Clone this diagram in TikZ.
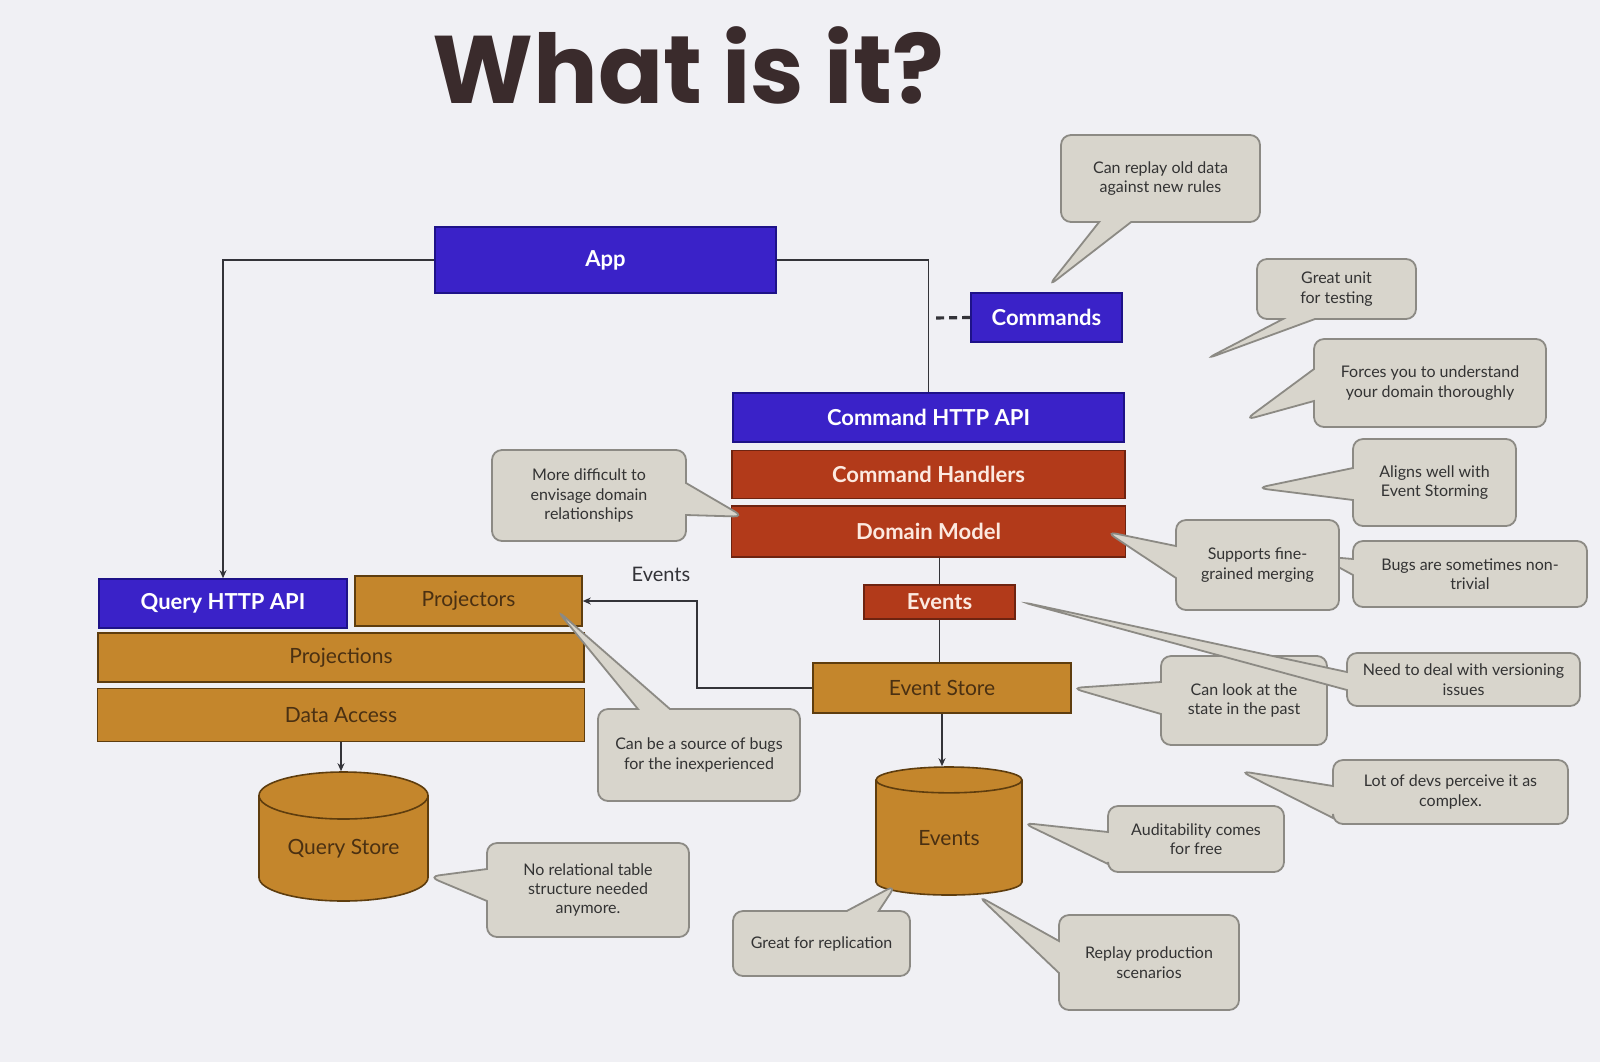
\documentclass[tikz,border=0pt]{standalone}
\usepackage{fontspec}
\setmainfont{Lato}
\newfontfamily\titlefont{Poppins}
\usepackage{xcolor}
\definecolor{bgpaper}{HTML}{F0F0F4}
\definecolor{titleink}{HTML}{3A2B2C}
\definecolor{appblue}{HTML}{3A22C8}
\definecolor{appblueline}{HTML}{1E1288}
\definecolor{cmdred}{HTML}{B23A1A}
\definecolor{cmdredline}{HTML}{6E2310}
\definecolor{cmdredtext}{HTML}{FCE9E0}
\definecolor{storegold}{HTML}{C4862C}
\definecolor{storegoldline}{HTML}{5E3D0E}
\definecolor{storegoldtext}{HTML}{4A3012}
\definecolor{notefill}{HTML}{D8D5CC}
\definecolor{noteline}{HTML}{8C8A84}
\definecolor{notetext}{HTML}{333333}
\definecolor{wirecol}{HTML}{333338}
\usepackage{tikz}
\usetikzlibrary{arrows.meta, positioning, shapes.geometric, shapes.callouts, calc}

\begin{document}
\begin{tikzpicture}[
    x=0.5pt, y=-0.5pt,
    layer/.style={
        rectangle, draw, line width=0.8pt, inner sep=0pt, align=center
    },
    bluebox/.style={layer, fill=appblue, draw=appblueline, text=white,
        font=\bfseries\fontsize{11}{13}\selectfont},
    redbox/.style={layer, fill=cmdred, draw=cmdredline, text=cmdredtext,
        font=\bfseries\fontsize{11}{13}\selectfont},
    goldbox/.style={layer, fill=storegold, draw=storegoldline, text=storegoldtext,
        font=\fontsize{10.5}{12}\selectfont},
    store/.style={
        cylinder, shape border rotate=90, aspect=0.42, inner sep=0pt,
        anchor=shape center,
        draw=storegoldline, fill=storegold, line width=0.8pt,
        text=storegoldtext, font=\fontsize{10.5}{12}\selectfont
    },
    note/.style={
        rectangle callout, rounded corners=5pt, inner sep=2pt,
        fill=notefill, draw=noteline, line width=0.9pt,
        callout pointer width=16pt, align=center, text=notetext,
        font=\fontsize{8}{9.7}\selectfont
    },
    wire/.style={draw=wirecol, line width=0.9pt},
    arr/.style={wire, -{Stealth[length=4pt, width=3.5pt]}}
]

\useasboundingbox (0,0) rectangle (1600,1062);
\fill[bgpaper] (0,0) rectangle (1600,1062);

% --- Titre ---
\node[font=\titlefont\bfseries\fontsize{48}{50}\selectfont, text=titleink,
    anchor=base] (title) at (688,103) {What is it?};

% --- Côté commandes ---
\node[bluebox, minimum width=170.5pt, minimum height=33pt] (app) at (605.5,260) {App};
\node[bluebox, minimum width=75.5pt, minimum height=24.5pt] (commands) at (1046.5,317.5) {Commands};
\node[bluebox, minimum width=195.5pt, minimum height=24.5pt] (cmdapi) at (928.5,417.5) {Command HTTP API};
\node[redbox, minimum width=196.5pt, minimum height=24pt, below=3.5pt of cmdapi] (cmdhandlers) {Command Handlers};
\node[redbox, minimum width=197pt, minimum height=25.5pt, below=3pt of cmdhandlers] (dommodel) {Domain Model};
\node[redbox, minimum width=75.5pt, minimum height=17pt] (events) at (939.5,602) {Events};
\node[goldbox, minimum width=129pt, minimum height=25pt] (evstore) at (942,688) {Event Store};
\node[store, minimum width=73pt, minimum height=64pt] (evdb) at (949,831) {Events};

% --- Côté requêtes ---
\node[bluebox, minimum width=124pt, minimum height=24.5pt] (queryapi) at (223,603.5) {Query HTTP API};
\node[goldbox, minimum width=113.5pt, minimum height=25pt] (projectors) at (468.5,601) {Projectors};
\node[goldbox, minimum width=243pt, minimum height=24.5pt] (projections) at (341,657.5) {Projections};
\node[goldbox, minimum width=243.5pt, minimum height=26.5pt, below=2.5pt of projections] (dataaccess) {Data Access};
\node[store, minimum width=84.5pt, minimum height=64.5pt] (querydb) at (343.5,836.5) {Query Store};

\node[font=\fontsize{10}{12}\selectfont, text=wirecol] (evlabel) at (661,574) {Events};

% --- Liaisons ---
\coordinate (dashend) at (932,318);
\draw[arr] (app.west) -| (queryapi.north);
\draw[wire] (app.east) -| (cmdapi.north);
\draw[wire, line width=1.6pt, dash pattern=on 4pt off 2.5pt] (commands.west) -- (dashend);
\draw[wire] (events.north |- dommodel.south) -- (events.north);
\draw[wire] (events.south) -- (events.south |- evstore.north);
\draw[arr] (evstore.west) -- ++(-115,0) |- (projectors.east);
\draw[arr] (evstore.south) -- (evstore.south |- evdb.north);
\draw[arr] (dataaccess.south) -- (dataaccess.south |- querydb.north);

% --- Bulles ---
\coordinate (unittip) at (1206,359);
\coordinate (forcetip) at (1245,420);
\coordinate (aligntip) at (1257,488);
\coordinate (complextip) at (1240,771);

\node[note, minimum width=99.5pt, minimum height=43.5pt,
    callout absolute pointer={([xshift=39pt,yshift=3pt]commands.north west)}]
    (replaynote) at (1160.5,178.5) {Can replay old data\\against new rules};
\node[note, minimum width=79.5pt, minimum height=30pt,
    callout absolute pointer={(unittip)}]
    (unitnote) at (1336.5,289) {Great unit\\for testing};
\node[note, minimum width=116pt, minimum height=44pt,
    callout absolute pointer={(forcetip)}]
    (forcenote) at (1430,383) {Forces you to understand\\your domain thoroughly};
\node[note, minimum width=81.5pt, minimum height=43.5pt,
    callout absolute pointer={(aligntip)}]
    (alignnote) at (1434.5,482.5) {Aligns well with\\Event Storming};
\node[note, minimum width=117pt, minimum height=33pt, callout pointer width=8pt,
    callout absolute pointer={(1318,556)}]
    (bugnote) at (1470,574) {Bugs are sometimes non-\\trivial};
\node[note, minimum width=81.5pt, minimum height=45pt,
    callout absolute pointer={([xshift=-10pt]dommodel.east)}]
    (mergenote) at (1257.5,565) {Supports fine-\\grained merging};
\node[note, minimum width=83pt, minimum height=44.5pt,
    callout absolute pointer={(evstore.east)}]
    (pastnote) at (1244,700.5) {Can look at the\\state in the past};
\node[note, minimum width=116.5pt, minimum height=26.5pt, callout pointer width=9pt,
    callout absolute pointer={([xshift=3pt]events.east)}]
    (versionnote) at (1463.5,679.5) {Need to deal with versioning\\issues};
\node[note, minimum width=117.5pt, minimum height=32pt,
    callout absolute pointer={(complextip)}]
    (complexnote) at (1450.5,792) {Lot of devs perceive it as\\complex.};
\node[note, minimum width=88pt, minimum height=33pt,
    callout absolute pointer={([yshift=7.5pt]evdb.east)}]
    (auditnote) at (1196,839) {Auditability comes\\for free};
\node[note, minimum width=90pt, minimum height=47.5pt,
    callout absolute pointer={([xshift=14.5pt]evdb.south)}]
    (prodnote) at (1149,962.5) {Replay production\\scenarios};
\node[note, minimum width=88.5pt, minimum height=32.5pt,
    callout absolute pointer={([xshift=-26.5pt,yshift=5.5pt]evdb.south)}]
    (replicnote) at (821.5,943.5) {Great for replication};
\node[note, minimum width=101pt, minimum height=47pt,
    callout absolute pointer={([yshift=-14pt]querydb.east)}]
    (relnote) at (588,890) {No relational table\\structure needed\\anymore.};
\node[note, minimum width=101pt, minimum height=46pt,
    callout absolute pointer={([xshift=-13pt,yshift=-4.5pt]projectors.east)}]
    (bugsrcnote) at (699,755) {Can be a source of bugs\\for the inexperienced};
\node[note, minimum width=97pt, minimum height=45.5pt,
    callout absolute pointer={([xshift=6.5pt,yshift=7.5pt]dommodel.west)}]
    (domainnote) at (589,495.5) {More difficult to\\envisage domain\\relationships};

\end{tikzpicture}
\end{document}
